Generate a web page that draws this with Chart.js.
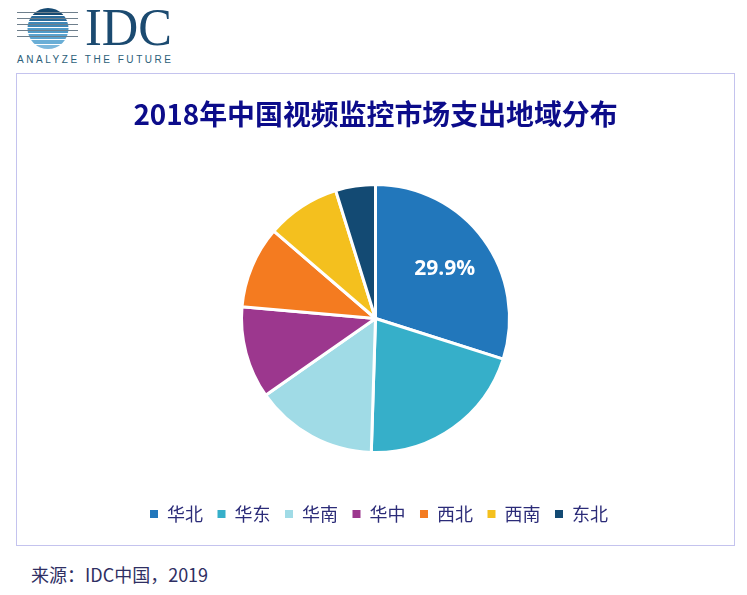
<!DOCTYPE html>
<html><head><meta charset="utf-8">
<script src="https://cdn.jsdelivr.net/npm/chart.js@4"></script>
<style>
html,body{margin:0;padding:0;background:#fff;width:747px;height:595px;overflow:hidden}
#box{position:absolute;left:16px;top:73px;width:717px;height:471px;border:1.5px solid #c4c3ee;box-sizing:content-box}
#wrap{position:absolute;left:0;top:0;width:717px;height:471px}
#logo{position:absolute;left:0;top:0}
#src{position:absolute;left:31px;top:562px;font:18px 'Noto Sans CJK SC',sans-serif;line-height:24px;color:#2f2f63}
</style></head><body>
<svg id="logo" width="190" height="70" viewBox="0 0 190 70">
<defs><clipPath id="c"><circle cx="48" cy="28.5" r="20.5"/></clipPath></defs>
<g clip-path="url(#c)">
<rect x="27" y="8" width="42" height="7" fill="#174a72"/>
<rect x="27" y="16" width="42" height="5" fill="#2a6c9c"/>
<rect x="27" y="22" width="42" height="5" fill="#3d88b8"/>
<rect x="27" y="28" width="42" height="5" fill="#4f9ac8"/>
<rect x="27" y="34" width="42" height="5" fill="#5aa3cf"/>
<rect x="27" y="40" width="42" height="4" fill="#6aaed6"/>
<rect x="27" y="45" width="42" height="5" fill="#7db8dc"/>
</g>
<g stroke="#6e7f8c" stroke-width="1">
<line x1="17" y1="12.5" x2="78" y2="12.5"/><line x1="17" y1="18.5" x2="78" y2="18.5"/>
<line x1="17" y1="24.5" x2="78" y2="24.5"/><line x1="17" y1="30.5" x2="78" y2="30.5"/>
<line x1="17" y1="36.5" x2="78" y2="36.5"/>
</g>
<text x="85" y="45" font-family="'Liberation Serif',serif" font-size="53" fill="#1b4a70" textLength="87" lengthAdjust="spacingAndGlyphs">IDC</text>
<text x="17" y="62.5" font-family="'Liberation Sans',sans-serif" font-size="10" fill="#2c6079" textLength="154">ANALYZE THE FUTURE</text>
</svg>
<div id="box"><div id="wrap"><canvas id="chart"></canvas></div></div>
<div id="src">来源：IDC中国，2019</div>
<script>
const categories = ['华北','华东','华南','华中','西北','西南','东北'];
const shares = [29.9,20.6,14.8,11.1,9.9,8.9,4.8];
const sliceColors = ['#2277bb','#36afc9','#a0dbe6','#9c378e','#f47b20','#f4c01e','#134a73'];
const shownLabels = ['29.9%',null,null,null,null,null,null];
Chart.defaults.font.family = "'Noto Sans CJK SC',sans-serif";
const sliceLabels = {
  id:'sliceLabels',
  afterLayout(chart){
    chart.legend.left += 3.5; chart.legend.right += 3.5;
  },
  afterDatasetsDraw(chart){
    const ctx = chart.ctx, meta = chart.getDatasetMeta(0);
    meta.data.forEach((arc,i)=>{
      if(!shownLabels[i]) return;
      const p = arc.getProps(['startAngle','endAngle','outerRadius','x','y'],true);
      const a = (p.startAngle+p.endAngle)/2, r = p.outerRadius*0.64;
      ctx.save();
      ctx.font = "bold 21px 'Open Sans',sans-serif";
      ctx.fillStyle = '#ffffff';
      ctx.textAlign = 'center'; ctx.textBaseline = 'middle';
      ctx.fillText(shownLabels[i], p.x+Math.cos(a)*r, p.y+1.5+Math.sin(a)*r);
      ctx.restore();
    });
  }
};
new Chart(document.getElementById('chart'),{
  type:'pie',
  data:{labels:categories,datasets:[{data:shares,backgroundColor:sliceColors,borderColor:'#ffffff',borderWidth:3,radius:134}]},
  plugins:[sliceLabels],
  options:{
    responsive:true,maintainAspectRatio:false,animation:false,
    layout:{padding:{top:24,bottom:12,left:0,right:0}},
    plugins:{
      tooltip:{enabled:false},
      title:{display:true,text:'2018年中国视频监控市场支出地域分布',color:'#0c0c8a',
        font:{size:27.9,weight:'bold'},padding:{top:0,bottom:15}},
      legend:{display:true,position:'bottom',
        labels:{color:'#2b2b78',font:{size:18},boxWidth:8,boxHeight:8,padding:14.5,
          generateLabels(chart){
            return Chart.overrides.pie.plugins.legend.labels.generateLabels(chart).map(l=>({...l,lineWidth:0}));
          }}}
    }
  }
});
</script>
</body></html>
